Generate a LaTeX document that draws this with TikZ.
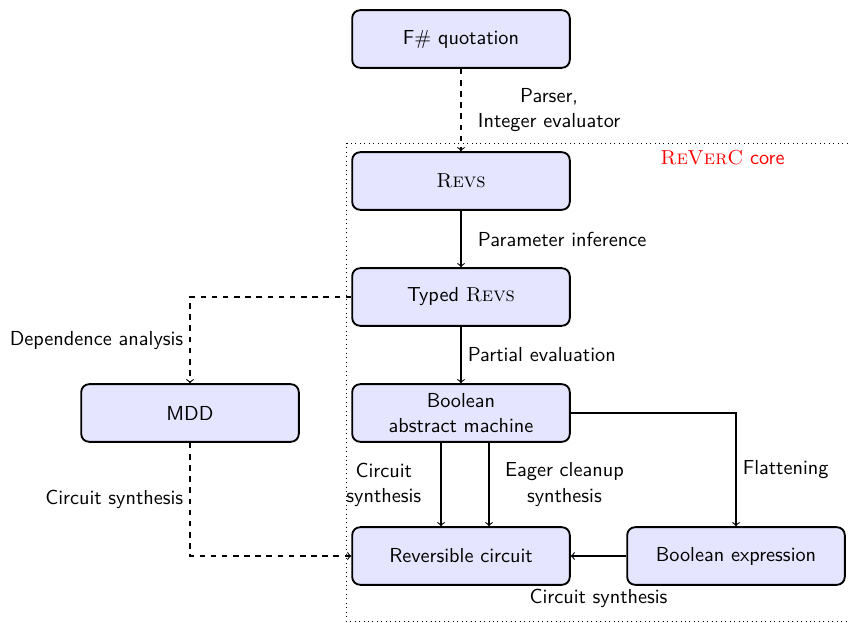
\documentclass[tikz,border=0pt]{standalone}
\usepackage{fontspec}
\usepackage{tikz}
\usetikzlibrary{shapes}
\usepackage{xcolor}

\tikzset{
  stage/.style={draw, line width=1pt, rounded corners=4.3pt, fill=blue!10, minimum width=117pt, minimum height=31pt, align=center},
  flow/.style={->, line width=0.6pt},
  dflow/.style={->, line width=0.6pt, dashed},
}

\begin{document}
\begin{tikzpicture}[x=0.5376pt,y=0.5376pt,yscale=-1,xscale=1,font=\sffamily\fontsize{10.9}{13.5}\selectfont]
\useasboundingbox (0,0) rectangle (850,623);

% core region
\draw [dotted] (346,143) rectangle (853,621);
% Text Node
\draw (785,150) node [anchor=north east, inner sep=0pt, text=red] (core) {\textrm{\textsc{ReVerC}} core};

% Stages
\draw (461,39) node [stage] (fsq) {F$\#$ quotation};
\draw (461,181) node [stage] (revs) {\textrm{\textsc{Revs}}};
\draw (461,297) node [stage] (typed) {Typed \textrm{\textsc{Revs}}};
\draw (461,413) node [stage] (bam) {Boolean\\abstract machine};
\draw (461,556) node [stage] (rev) {Reversible circuit};
\draw (190,413) node [stage] (mdd) {MDD};
\draw (736,556) node [stage] (bexp) {Boolean expression};

% Connectors
\draw [dflow] (fsq) -- node [right, xshift=5.5pt, align=center] {Parser,\\Integer evaluator} (revs);
\draw [flow] (revs) -- node [right, xshift=5.5pt] {Parameter inference} (typed);
\draw [flow] (typed) -- node [right] {Partial evaluation} (bam);
\draw [dflow] (typed.west) -| node [pos=0.75, left] {Dependence analysis} (mdd.north);
\draw [dflow] (mdd.south) |- node [pos=0.25, left] {Circuit synthesis} (rev.west);
\draw [flow] ([xshift=-10.75pt]bam.south) -- node [left, xshift=-7pt, align=center] {Circuit\\synthesis} ([xshift=-10.75pt]rev.north);
\draw [flow] ([xshift=15.05pt]bam.south) -- node [right, xshift=5pt, align=center] {Eager cleanup\\synthesis} ([xshift=15.05pt]rev.north);
\draw [flow] (bam.east) -| node [pos=0.75, right] {Flattening} (bexp.north);
\draw [flow] (bexp) -- node [midway, yshift=-22.6pt] {Circuit synthesis} (rev);

\end{tikzpicture}
\end{document}
